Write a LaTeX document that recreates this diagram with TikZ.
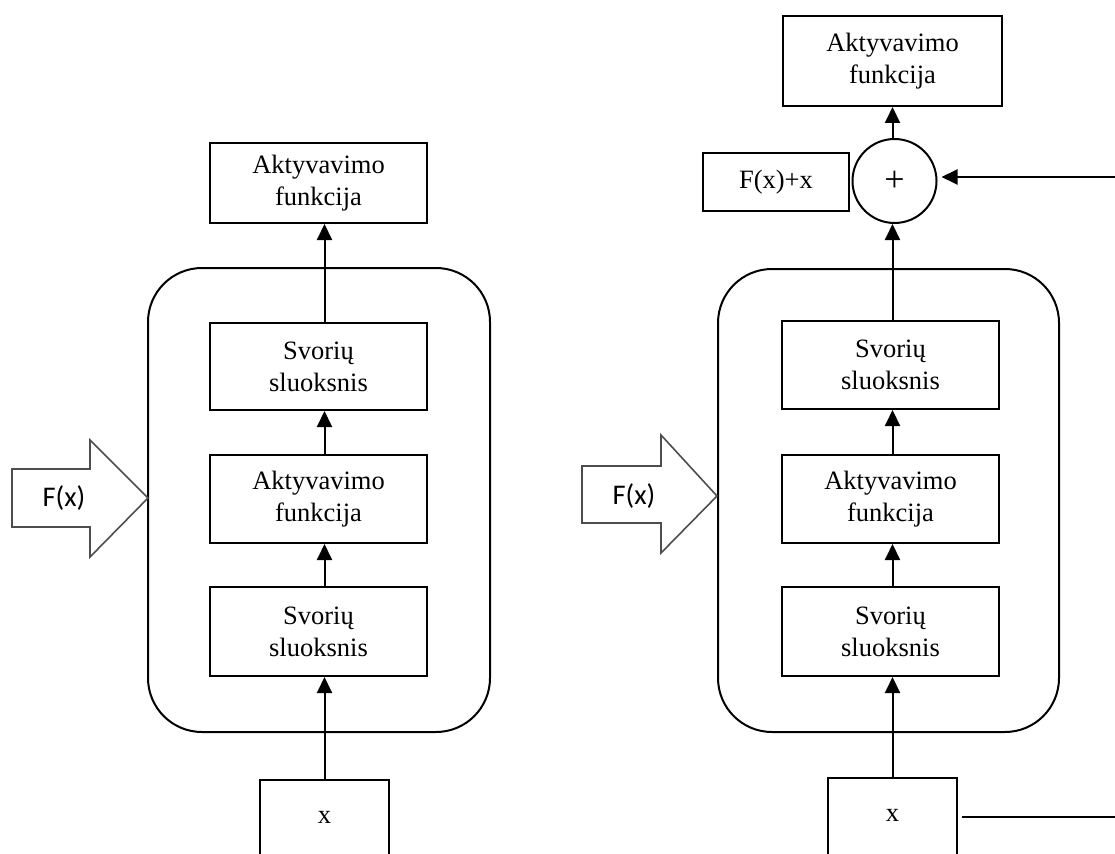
\documentclass[tikz,border=0pt]{standalone}
\usepackage{fontspec}
\setmainfont{Liberation Serif}
\newfontfamily\labelsans{Carlito}
\usetikzlibrary{arrows.meta}
\definecolor{outlinegray}{HTML}{4D4D4D}
\begin{document}
\begin{tikzpicture}[x=1pt,y=-1pt,
  line width=2pt,
  every node/.style={font=\fontsize{26.5}{32}\selectfont},
  layer/.style={draw, rectangle, minimum width=217pt, inner sep=0pt, align=center},
  block/.style={draw, rectangle, rounded corners=54pt, minimum width=342pt, minimum height=464pt},
  inbox/.style={draw, rectangle, minimum width=129pt, inner xsep=0pt, inner ysep=0pt,
                text height=43pt, text depth=90pt, anchor=north},
  flow/.style={-{Triangle[length=16pt,width=15pt]}},
  bigarrow/.style={draw=outlinegray, line width=1.6pt, line join=miter},
  arrowtext/.style={font=\labelsans\fontsize{28.5}{32}\selectfont},
  sumnode/.style={draw, circle, minimum size=84pt, inner sep=0pt, font=\fontsize{36}{36}\selectfont}
]
\clip (0,0) rectangle (1115,853);

% ---------- plain block ----------
\node[block] (Lblock) at (319,500) {};
\node[layer, minimum height=80pt] (Ltop) at (318.5,183) {Aktyvavimo\\funkcija};
\node[layer, minimum height=87pt] (Lsv1) at (318.5,366.5) {Svorių\\sluoksnis};
\node[layer, minimum height=88pt] (Lact) at (318.5,499) {Aktyvavimo\\funkcija};
\node[layer, minimum height=89pt] (Lsv2) at (318.5,631.5) {Svorių\\sluoksnis};
\node[inbox] (Lx) at (324.5,779) {x};

\draw[flow] (Lx.north) -- (Lsv2.south -| Lx.north);
\draw[flow] (Lsv2.north -| Lx.north) -- (Lact.south -| Lx.north);
\draw[flow] (Lact.north -| Lx.north) -- (Lsv1.south -| Lx.north);
\draw[flow] (Lsv1.north -| Lx.north) -- (Ltop.south -| Lx.north);

\draw[bigarrow] (12,469) -- (90,469) -- (90,440) -- (148,498) -- (90,557) -- (90,527) -- (12,527) -- cycle;
\node[arrowtext] (Lin) at (64,498) {F(x)};

% ---------- residual block ----------
\node[block, minimum width=341pt, minimum height=463pt] (Rblock) at (888.5,500.5) {};
\node[layer, minimum height=90pt, minimum width=219pt] (Rtop) at (892.5,61) {Aktyvavimo\\funkcija};
\node[sumnode] (sum) at (894.5,181) {+};
\node[draw, rectangle, minimum width=146pt, minimum height=58pt, inner sep=0pt] (out) at (776,182) {F(x)+x};
\node[layer, minimum height=88pt] (Rsv1) at (890.5,365) {Svorių\\sluoksnis};
\node[layer, minimum height=88pt] (Ract) at (890.5,499) {Aktyvavimo\\funkcija};
\node[layer, minimum height=89pt] (Rsv2) at (890.5,631.5) {Svorių\\sluoksnis};
\node[inbox] (Rx) at (892.5,777) {x};

\draw[flow] (Rx.north) -- (Rsv2.south -| Rx.north);
\draw[flow] (Rsv2.north -| Rx.north) -- (Ract.south -| Rx.north);
\draw[flow] (Ract.north -| Rx.north) -- (Rsv1.south -| Rx.north);
\draw[flow] (Rsv1.north -| Rx.north) -- (sum.south -| Rx.north);
\draw[flow] (sum.north -| Rx.north) -- (Rtop.south -| Rx.north);

% identity shortcut, running past the right edge
\coordinate (skipB) at (1140,817);
\coordinate (skipT) at (1140,177);
\draw[flow, shorten <=4pt, shorten >=4pt] (Rx.east |- skipB) -- (skipB) -- (skipT) -- (sum.east |- skipT);

\draw[bigarrow] (582,466) -- (661,466) -- (661,435) -- (717,496) -- (661,553) -- (661,523) -- (582,523) -- cycle;
\node[arrowtext] (Rin) at (634,496) {F(x)};
\end{tikzpicture}
\end{document}
